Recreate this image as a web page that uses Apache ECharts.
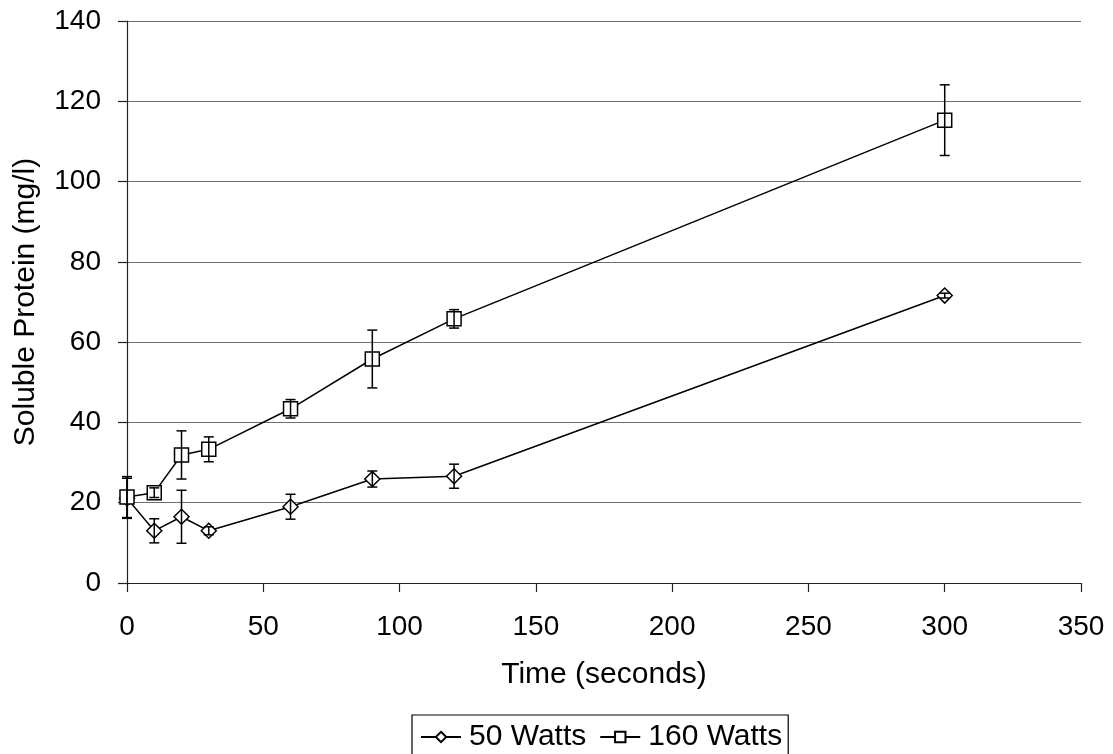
<!DOCTYPE html>
<html>
<head>
<meta charset="utf-8">
<script src="https://cdn.jsdelivr.net/npm/echarts@6/dist/echarts.min.js"></script>
<style>
  html, body { margin: 0; padding: 0; background: #fff; }
  #chart { width: 1113px; height: 754px; }
</style>
</head>
<body>
<div id="chart"></div>
<script>
// Sonication time (s) and soluble protein (mg/l), mean and error per power level
const times = [0, 10, 20, 30, 60, 90, 120, 300];
const watts50 = [21.1, 13.0, 16.5, 13.0, 19.0, 25.9, 26.6, 71.6];
const watts50Err = [5.0, 3.0, 6.6, 1.0, 3.1, 2.0, 3.0, 0.6];
const watts160 = [21.4, 22.5, 31.9, 33.3, 43.4, 55.8, 65.8, 115.3];
const watts160Err = [5.1, 1.2, 6.0, 3.1, 2.3, 7.2, 2.3, 8.8];
const seriesNames = ['50 Watts', '160 Watts'];
const xTitle = 'Time (seconds)';
const yTitle = 'Soluble Protein (mg/l)';

const font = 'Liberation Sans, Arial, sans-serif';

function pairs(vals) {
  return times.map((t, i) => [t, vals[i]]);
}
function errRows(vals, errs) {
  return times.map((t, i) => [t, vals[i] - errs[i], vals[i] + errs[i]]);
}

// vertical error bar with short caps at both ends
function errorBar(params, api) {
  const x = api.value(0);
  const lo = api.coord([x, api.value(1)]);
  const hi = api.coord([x, api.value(2)]);
  const cap = 5;
  const style = { stroke: '#000', lineWidth: 1.5 };
  return {
    type: 'group',
    children: [
      { type: 'line', shape: { x1: hi[0], y1: hi[1], x2: lo[0], y2: lo[1] }, style },
      { type: 'line', shape: { x1: hi[0] - cap, y1: hi[1], x2: hi[0] + cap, y2: hi[1] }, style },
      { type: 'line', shape: { x1: lo[0] - cap, y1: lo[1], x2: lo[0] + cap, y2: lo[1] }, style }
    ]
  };
}

const chart = echarts.init(document.getElementById('chart'), null, { renderer: 'canvas' });
chart.setOption({
  animation: false,
  backgroundColor: '#fff',
  grid: { left: 127, right: 32, top: 21, bottom: 171, containLabel: false },
  xAxis: {
    type: 'value', min: 0, max: 350, interval: 50,
    name: xTitle, nameLocation: 'middle', nameGap: 77,
    nameTextStyle: { fontFamily: font, fontSize: 30, color: '#000' },
    axisLine: { lineStyle: { color: '#222', width: 1.2 } },
    axisTick: { show: true, length: 9, lineStyle: { color: '#222', width: 1.2 } },
    axisLabel: { fontFamily: font, fontSize: 28, color: '#000', margin: 30 },
    splitLine: { show: false }
  },
  yAxis: {
    type: 'value', min: 0, max: 140, interval: 20,
    name: yTitle, nameLocation: 'middle', nameGap: 86, nameRotate: 90,
    nameTextStyle: { fontFamily: font, fontSize: 30, color: '#000' },
    axisLine: { show: true, lineStyle: { color: '#222', width: 1.2 } },
    axisTick: { show: true, length: 9, lineStyle: { color: '#222', width: 1.2 } },
    axisLabel: { fontFamily: font, fontSize: 28, color: '#000', margin: 26 },
    splitLine: { show: true, lineStyle: { color: '#6e6e6e', width: 1.2 } }
  },
  legend: {
    data: seriesNames,
    top: 715, left: 412,
    padding: [7, 6, 4, 8],
    itemGap: 13,
    itemWidth: 40, itemHeight: 13,
    borderColor: '#000', borderWidth: 1.2,
    textStyle: { fontFamily: font, fontSize: 30, color: '#000', padding: [0, 0, 0, 3] }
  },
  series: [
    {
      name: seriesNames[0], type: 'line', data: pairs(watts50),
      symbol: 'diamond', symbolSize: 15,
      itemStyle: { color: '#fff', borderColor: '#000', borderWidth: 1.5 },
      lineStyle: { color: '#000', width: 1.5 }, z: 3
    },
    {
      name: seriesNames[1], type: 'line', data: pairs(watts160),
      symbol: 'rect', symbolSize: 14,
      itemStyle: { color: '#fff', borderColor: '#000', borderWidth: 1.5 },
      lineStyle: { color: '#000', width: 1.5 }, z: 3
    },
    {
      type: 'custom', renderItem: errorBar, data: errRows(watts50, watts50Err),
      encode: { x: 0, y: [1, 2] }, z: 4, silent: true
    },
    {
      type: 'custom', renderItem: errorBar, data: errRows(watts160, watts160Err),
      encode: { x: 0, y: [1, 2] }, z: 4, silent: true
    }
  ]
});
</script>
</body>
</html>
